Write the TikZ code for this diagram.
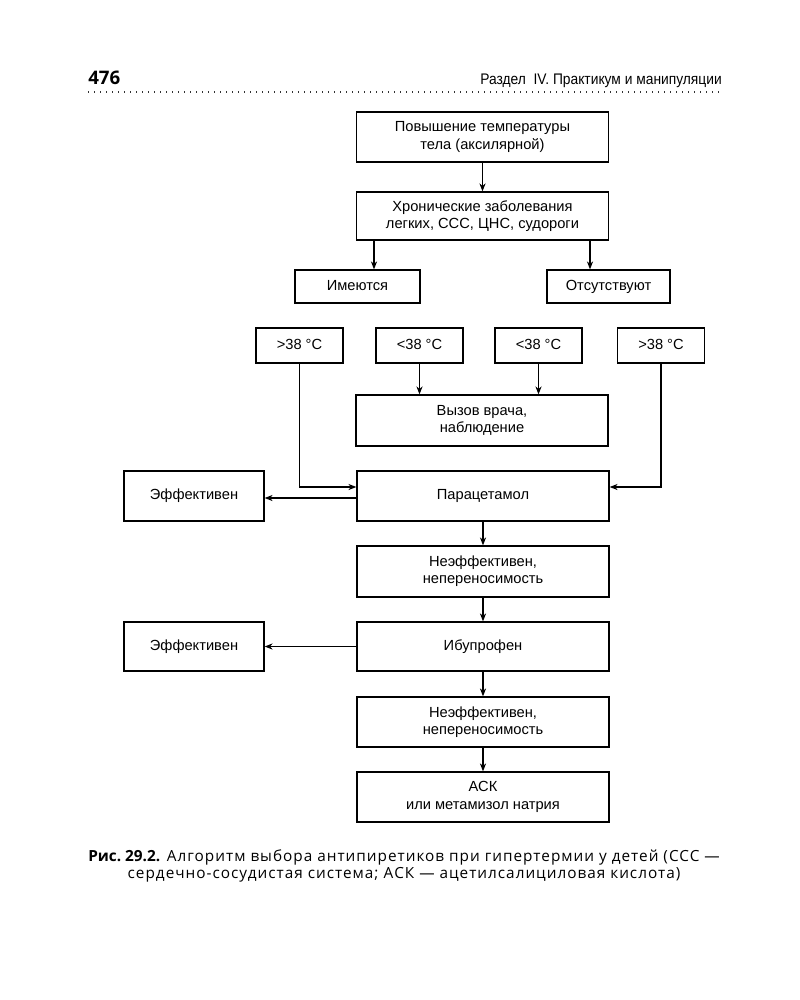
\documentclass[tikz,border=0pt]{standalone}
\usepackage{fontspec}
\setmainfont{Liberation Sans}
\newfontfamily\capfont{Open Sans}
\newfontfamily\capfontsp{Open Sans}[LetterSpace=6.5]
\newfontfamily\hdrfont{Liberation Sans}[FakeStretch=0.9]
\usetikzlibrary{arrows.meta,calc}
\begin{document}
\begin{tikzpicture}[x=0.75pt,y=-0.75pt,
  every node/.style={font=\fontsize{11}{13}\selectfont, align=center},
  bx/.style={draw, line width=0.95pt, inner sep=1pt},
  one/.style={text height=8pt, text depth=2.3pt},
  bigbox/.style={bx, minimum width=189pt, minimum height=37.5pt},
  smallbox/.style={bx, one, minimum height=24.75pt},
  tbox/.style={bx, one, minimum width=65.25pt, minimum height=26.25pt},
  effbox/.style={bx, one, minimum width=105pt, minimum height=37.5pt},
  arr/.style={draw, line width=0.85pt, -{Stealth[length=6pt,width=4.6pt]}}]
\useasboundingbox (0,0) rectangle (800,1000);
\fill[white] (0,0) rectangle (800,1000);

% header
\node[anchor=base west, inner sep=0, font=\capfont\bfseries\fontsize{14}{16}\selectfont] (pg) at (88,84.5) {476};
\node[anchor=base east, inner sep=0, font=\hdrfont\fontsize{11.5}{13}\selectfont] (hd) at (722,84) {Раздел\ \ IV. Практикум и манипуляции};
\coordinate (dl) at (88,92);
\coordinate (dr) at (722,92);
\draw[black!80, line width=1.1pt, dash pattern=on 1.1pt off 3.4pt] (dl) -- (dr);

% boxes
\node[bigbox] (b1) at (482.5,137) {Повышение температуры\\тела (аксилярной)};
\node[bigbox, minimum height=36pt] (b2) at (482.5,216) {Хронические заболевания\\легких, ССС, ЦНС, судороги};
\node[smallbox, minimum width=93.75pt] (has) at (357.5,286.5) {Имеются};
\node[smallbox, minimum width=92.25pt] (none) at (608.5,286.5) {Отсутствуют};

\node[tbox] (t1) at (299.5,345.5) {>38 °C};
\node[tbox] (t2) at (419.5,345.5) {<38 °C};
\node[tbox] (t3) at (538.5,345.5) {<38 °C};
\node[tbox] (t4) at (661,345.5) {>38 °C};

\node[bigbox, minimum height=38.25pt] (call) at (482,420.5) {Вызов врача,\\наблюдение};
\node[bigbox, one] (para) at (483,496) {Парацетамол};
\node[effbox] (eff1) at (194,496) {Эффективен};
\node[bigbox, minimum height=38.25pt] (ne1) at (483,571.5) {Неэффективен,\\непереносимость};
\node[bigbox, one, minimum height=36.75pt] (ibu) at (483,646.5) {Ибупрофен};
\node[effbox, minimum height=36.75pt] (eff2) at (194,646.5) {Эффективен};
\node[bigbox] (ne2) at (483,722) {Неэффективен,\\непереносимость};
\node[bigbox] (ask) at (483,797) {АСК\\или метамизол натрия};

% connectors
\coordinate (xa) at (374,0);
\coordinate (xb) at (590,0);
\coordinate (yin) at (0,487);
\coordinate (yout) at (0,498);
\draw[arr] (b1) -- (b2);
\draw[arr] (b2.south -| xa) -- (has.north -| xa);
\draw[arr] (b2.south -| xb) -- (none.north -| xb);
\draw[arr] (t2.south) -- (t2.south |- call.north);
\draw[arr] (t3.south) -- (t3.south |- call.north);
\draw[arr] (t1.south) |- (para.west |- yin);
\draw[arr] (t4.south) |- (para.east |- yin);
\draw[arr] (para.west |- yout) -- (eff1.east |- yout);
\draw[arr] (para) -- (ne1);
\draw[arr] (ne1) -- (ibu);
\draw[arr] (ibu) -- (eff2);
\draw[arr] (ibu) -- (ne2);
\draw[arr] (ne2) -- (ask);

% caption
\node[anchor=north, inner sep=0, font=\capfontsp\fontsize{11.5}{13.2}\selectfont] (cap) at (404,849)
  {{\capfont\bfseries Рис.~29.2.} Алгоритм выбора антипиретиков при гипертермии у детей (ССС —\\сердечно-сосудистая система; АСК — ацетилсалициловая кислота)};
\end{tikzpicture}
\end{document}
